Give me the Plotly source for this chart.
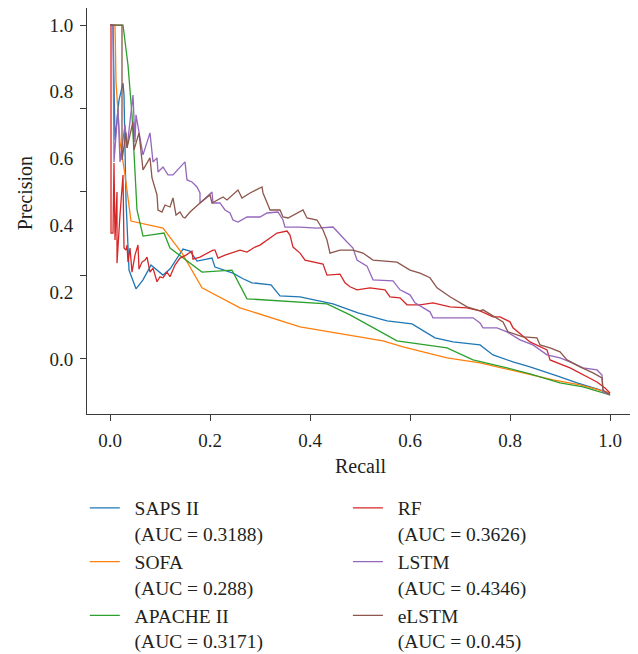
import plotly.graph_objects as go

# ---- data ----
saps_x = [0, 0.006, 0.01, 0.018, 0.026, 0.028, 0.032, 0.038, 0.052, 0.066, 0.082, 0.106, 0.12, 0.146, 0.16, 0.174,
          0.204, 0.21, 0.246, 0.266, 0.284, 0.322, 0.34, 0.38, 0.446, 0.496, 0.554, 0.604, 0.65, 0.686, 0.74, 0.766,
          0.806, 0.84, 0.9, 0.934, 0.98, 1.0]
saps_y = [1.0, 1.0, 0.656, 0.775, 0.826, 0.790, 0.476, 0.266, 0.210, 0.237, 0.281, 0.251, 0.269, 0.329, 0.323, 0.293,
          0.302, 0.275, 0.257, 0.240, 0.228, 0.222, 0.189, 0.186, 0.165, 0.138, 0.114, 0.105, 0.063, 0.051, 0.042, 0.012,
          -0.009, -0.024, -0.054, -0.072, -0.093, -0.105]

sofa_x = [0, 0.01, 0.012, 0.02, 0.03, 0.042, 0.106, 0.144, 0.184, 0.26, 0.38, 0.546, 0.586, 0.674, 0.74, 0.82,
          0.886, 0.94, 1.0]
sofa_y = [1.0, 1.0, 0.829, 0.650, 0.551, 0.413, 0.392, 0.317, 0.213, 0.153, 0.096, 0.054, 0.036, 0.003, -0.012,
          -0.039, -0.063, -0.078, -0.102]

apache_x = [0, 0.026, 0.036, 0.044, 0.054, 0.066, 0.108, 0.12, 0.184, 0.244, 0.274, 0.434, 0.48, 0.574, 0.674,
            0.726, 0.794, 0.84, 0.9, 0.946, 1.0]
apache_y = [1.0, 1.0, 0.880, 0.731, 0.446, 0.368, 0.377, 0.332, 0.260, 0.266, 0.180, 0.165, 0.132, 0.054, 0.033,
            -0.003, -0.027, -0.045, -0.072, -0.084, -0.108]

rf_x = [0, 0.002, 0.002, 0.006, 0.008, 0.01, 0.014, 0.014, 0.02, 0.026, 0.028, 0.032, 0.034, 0.036, 0.04, 0.044,
        0.05, 0.056, 0.058, 0.064, 0.07, 0.074, 0.08, 0.086, 0.094, 0.1, 0.106, 0.114, 0.12, 0.13, 0.14, 0.152,
        0.164, 0.166, 0.18, 0.194, 0.206, 0.21, 0.216, 0.23, 0.246, 0.26, 0.274, 0.29, 0.3, 0.32, 0.334, 0.354,
        0.36, 0.366, 0.38, 0.39, 0.406, 0.426, 0.434, 0.46, 0.47, 0.48, 0.494, 0.52, 0.55, 0.56, 0.58, 0.594,
        0.62, 0.646, 0.68, 0.714, 0.74, 0.766, 0.78, 0.794, 0.8, 0.806, 0.82, 0.84, 0.874, 0.88, 0.92, 0.946,
        0.974, 0.99, 1.0]
rf_y = [1.0, 1.0, 0.377, 0.377, 0.587, 0.356, 0.500, 0.287, 0.431, 0.551, 0.332, 0.326, 0.341, 0.290, 0.332, 0.260,
        0.311, 0.341, 0.269, 0.290, 0.296, 0.305, 0.260, 0.272, 0.231, 0.246, 0.243, 0.260, 0.246, 0.281, 0.302, 0.311,
        0.323, 0.299, 0.305, 0.317, 0.326, 0.326, 0.302, 0.311, 0.320, 0.326, 0.320, 0.335, 0.341, 0.362, 0.377, 0.383,
        0.371, 0.335, 0.317, 0.296, 0.290, 0.284, 0.251, 0.254, 0.228, 0.216, 0.207, 0.213, 0.207, 0.186, 0.183, 0.162,
        0.162, 0.168, 0.156, 0.153, 0.144, 0.126, 0.126, 0.117, 0.111, 0.093, 0.075, 0.051, 0.027, -0.003, -0.027,
        -0.048, -0.069, -0.087, -0.102]

lstm_x = [0, 0.006, 0.008, 0.016, 0.02, 0.03, 0.034, 0.046, 0.05, 0.052, 0.06, 0.066, 0.08, 0.084, 0.086, 0.094,
          0.096, 0.106, 0.116, 0.126, 0.14, 0.15, 0.154, 0.164, 0.174, 0.18, 0.18, 0.194, 0.204, 0.206, 0.22, 0.23,
          0.24, 0.246, 0.256, 0.274, 0.3, 0.314, 0.336, 0.346, 0.35, 0.38, 0.414, 0.446, 0.46, 0.474, 0.486, 0.494,
          0.514, 0.526, 0.566, 0.58, 0.6, 0.61, 0.64, 0.646, 0.7, 0.726, 0.74, 0.746, 0.774, 0.794, 0.82, 0.846,
          0.874, 0.9, 0.92, 0.946, 0.974, 0.984, 0.986, 1.0]
lstm_y = [1.0, 1.0, 0.590, 0.751, 0.590, 0.701, 0.632, 0.790, 0.650, 0.731, 0.662, 0.611, 0.677, 0.617, 0.590, 0.602,
          0.560, 0.575, 0.551, 0.551, 0.575, 0.590, 0.536, 0.530, 0.515, 0.497, 0.467, 0.485, 0.500, 0.467, 0.467, 0.446,
          0.437, 0.416, 0.410, 0.425, 0.425, 0.437, 0.440, 0.416, 0.395, 0.395, 0.392, 0.395, 0.371, 0.350, 0.332, 0.296,
          0.278, 0.237, 0.234, 0.207, 0.192, 0.168, 0.141, 0.123, 0.123, 0.123, 0.108, 0.093, 0.093, 0.081, 0.057, 0.042,
          0.012, 0.003, -0.009, -0.027, -0.033, -0.048, -0.099, -0.108]

elstm_x = [0, 0.024, 0.024, 0.032, 0.034, 0.046, 0.048, 0.058, 0.066, 0.08, 0.084, 0.094, 0.096, 0.104, 0.11, 0.12,
           0.126, 0.132, 0.14, 0.146, 0.15, 0.16, 0.18, 0.2, 0.204, 0.214, 0.226, 0.234, 0.25, 0.256, 0.264, 0.28,
           0.304, 0.306, 0.316, 0.32, 0.34, 0.346, 0.356, 0.374, 0.386, 0.394, 0.414, 0.426, 0.434, 0.44, 0.46,
           0.486, 0.506, 0.526, 0.574, 0.6, 0.62, 0.64, 0.654, 0.68, 0.714, 0.74, 0.746, 0.786, 0.796, 0.826,
           0.854, 0.86, 0.88, 0.9, 0.914, 0.94, 0.966, 0.984, 0.986, 1.0]
elstm_y = [1.0, 1.0, 0.596, 0.677, 0.632, 0.710, 0.626, 0.677, 0.566, 0.602, 0.542, 0.491, 0.446, 0.440, 0.461,
           0.455, 0.482, 0.431, 0.440, 0.425, 0.422, 0.440, 0.467, 0.491, 0.467, 0.476, 0.485, 0.476, 0.497, 0.506,
           0.482, 0.497, 0.515, 0.497, 0.461, 0.446, 0.446, 0.425, 0.422, 0.437, 0.446, 0.422, 0.416, 0.386, 0.356,
           0.317, 0.326, 0.326, 0.317, 0.296, 0.290, 0.266, 0.257, 0.243, 0.213, 0.186, 0.156, 0.144, 0.147, 0.111,
           0.081, 0.066, 0.063, 0.042, 0.033, 0.021, -0.003, -0.024, -0.042, -0.057, -0.093, -0.108]

model_names = ["SAPS II", "SOFA", "APACHE II", "RF", "LSTM", "eLSTM"]
auc_labels = ["0.3188", "0.288", "0.3171", "0.3626", "0.4346", "0.0.45"]
colors = ["#1f77b4", "#ff7f0e", "#2ca02c", "#d62728", "#9467bd", "#8c564b"]

x_ticks = [0.0, 0.2, 0.4, 0.6, 0.8, 1.0]
x_ticklabels = ["0.0", "0.2", "0.4", "0.6", "0.8", "1.0"]
y_tickmarks = [0.0, 0.25, 0.5, 0.75, 1.0]
y_ticklabels_vals = [0.0, 0.2, 0.4, 0.6, 0.8, 1.0]
y_ticklabels = ["0.0", "0.2", "0.4", "0.6", "0.8", "1.0"]

FONT = "Liberation Serif"
TXT = "#231f20"
AX = "#3a3a3a"
PAD = "&nbsp;&nbsp;"

series = [(saps_x, saps_y), (sofa_x, sofa_y), (apache_x, apache_y),
          (rf_x, rf_y), (lstm_x, lstm_y), (elstm_x, elstm_y)]

fig = go.Figure()
for i, ((xs, ys), nm, auc, c) in enumerate(zip(series, model_names, auc_labels, colors)):
    fig.add_trace(go.Scatter(
        x=xs, y=ys, mode="lines",
        name=f"{PAD}{nm}<br>{PAD}(AUC = {auc})",
        line=dict(color=c, width=1.3),
        legend="legend" if i < 3 else "legend2",
    ))

# invisible trace to carry the label axis
fig.add_trace(go.Scatter(x=[None], y=[None], yaxis="y2", showlegend=False, hoverinfo="skip"))

yrange = [-0.165, 1.051]
fig.update_layout(
    width=630, height=646,
    margin=dict(l=79, r=4, t=0, b=240, autoexpand=False),
    paper_bgcolor="white", plot_bgcolor="white",
    font=dict(family=FONT, size=20, color=TXT),
    xaxis=dict(
        range=[-0.046, 1.048], tickvals=x_ticks, ticktext=x_ticklabels,
        ticks="outside", ticklen=6, tickwidth=1.2, tickcolor=AX,
        showline=True, linecolor=AX, linewidth=1.3, mirror=True,
        showgrid=False, zeroline=False, automargin=False,
        tickfont=dict(size=19, color=TXT), ticklabelstandoff=3,
        title=dict(text="Recall", font=dict(size=20, color=TXT), standoff=9),
    ),
    yaxis=dict(
        range=yrange, tickvals=y_tickmarks, showticklabels=False,
        ticks="outside", ticklen=6, tickwidth=1.2, tickcolor=AX,
        showline=True, linecolor=AX, linewidth=1.3, mirror=True,
        showgrid=False, zeroline=False, automargin=False,
    ),
    yaxis2=dict(
        range=yrange, overlaying="y", side="left", anchor="x",
        tickvals=y_ticklabels_vals, ticktext=y_ticklabels,
        ticks="outside", ticklen=6, tickcolor="rgba(0,0,0,0)",
        showline=False, showgrid=False, zeroline=False, automargin=False,
        tickfont=dict(size=19, color=TXT), ticklabelstandoff=3,
    ),
    legend=dict(
        x=-0.004, y=-0.184, xanchor="left", yanchor="top",
        font=dict(size=19.5, color=TXT), bgcolor="rgba(0,0,0,0)",
        valign="top", tracegroupgap=0, itemwidth=30,
    ),
    legend2=dict(
        x=0.477, y=-0.184, xanchor="left", yanchor="top",
        font=dict(size=19.5, color=TXT), bgcolor="rgba(0,0,0,0)",
        valign="top", tracegroupgap=0, itemwidth=30,
    ),
    annotations=[dict(
        text="Precision", textangle=-90, xref="paper", yref="paper",
        x=-0.113, y=0.544, showarrow=False, font=dict(size=20, color=TXT),
        xanchor="center", yanchor="middle",
    )],
    showlegend=True,
)

fig.write_html("out.html")
